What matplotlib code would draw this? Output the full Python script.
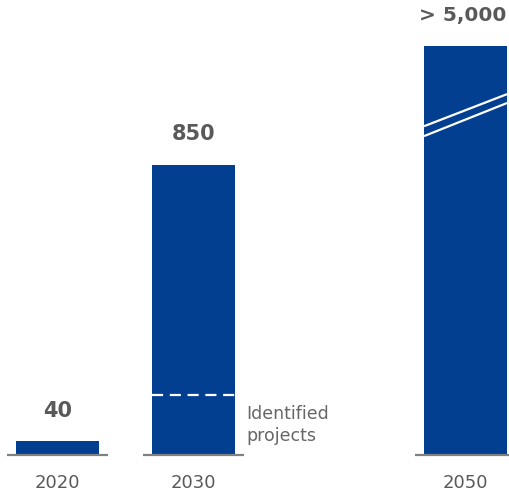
import matplotlib
matplotlib.use("Agg")
import matplotlib.pyplot as plt

# data
years = ["2020", "2030", "2050"]
positions = [0, 1, 3]
bar_heights = [40, 850, 1200]          # 2050 bar is drawn truncated (axis break)
value_labels = ["40", "850", "> 5,000"]
identified_projects = 175              # dashed line inside the 2030 bar
break_lines = [(964, 1058), (935, 1032)]  # white break marks on the 2050 bar

bar_color = "#023F91"
text_grey = "#595959"
base_grey = "#808080"
width = 0.61

fig = plt.figure(figsize=(5.10, 4.95), dpi=100)
ax = fig.add_axes([0, 0, 1, 1])
ax.set_xlim(-0.423, 3.327)
ax.set_ylim(-117, 1334)
ax.axis("off")

ax.bar(positions, bar_heights, width=width, color=bar_color, zorder=2)

for x, h, lab, yr in zip(positions, bar_heights, value_labels, years):
    ax.plot([x - 0.37, x + 0.37], [0, 0], color=base_grey, lw=1.6,
            solid_capstyle="butt", zorder=3)
    ax.text(x - (0.02 if len(lab) > 4 else 0), h + 90, lab, ha="center",
            va="center", fontsize=15 if len(lab) < 4 else 14.5,
            fontweight="bold", color=text_grey)
    ax.text(x, -82, yr, ha="center", va="center", fontsize=13,
            color=text_grey)

# identified projects marker
x1 = positions[1]
ax.plot([x1 - width / 2, x1 + width / 2], [identified_projects] * 2,
        color="white", lw=1.6, dashes=(5, 3), zorder=3)
ax.text(x1 + width / 2 + 0.08, 88, "Identified\nprojects",
        ha="left", va="center", fontsize=12.5, color="#666666",
        linespacing=1.3)

# axis break on the 2050 bar
x3 = positions[2]
for y0, y1 in break_lines:
    ax.plot([x3 - width / 2, x3 + width / 2], [y0, y1], color="white",
            lw=1.6, zorder=3, solid_capstyle="butt")

fig.savefig("out.png", dpi=100)
